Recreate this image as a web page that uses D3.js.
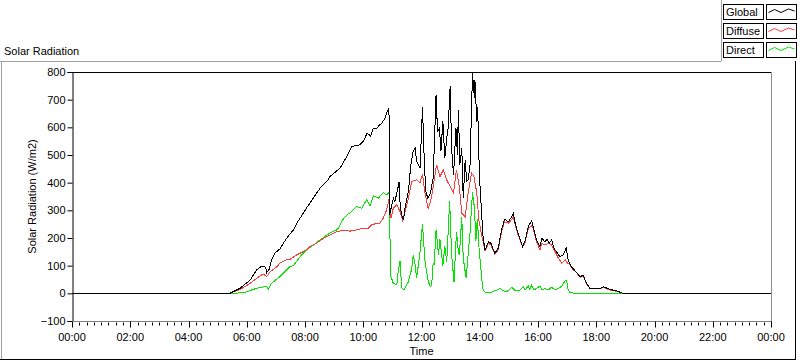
<!DOCTYPE html>
<html><head><meta charset="utf-8">
<script src="https://cdn.jsdelivr.net/npm/d3@7"></script>
<style>
body{margin:0;background:#fff;}
svg{display:block;}
text{font-family:"Liberation Sans",Arial,sans-serif;font-size:11px;fill:#000;}
</style>
</head><body>
<svg id="c" width="800" height="361"></svg>
<script>
const seriesNames = ["Global", "Diffuse", "Direct"];
const seriesColors = ["#000000", "#ff3c3c", "#00e400"];
const yTicks = [-100, 0, 100, 200, 300, 400, 500, 600, 700, 800];
const xTickLabels = ["00:00","02:00","04:00","06:00","08:00","10:00","12:00","14:00","16:00","18:00","20:00","22:00","00:00"];
const chartTitle = "Solar Radiation";
const yTitle = "Solar Radiation (W/m2)";
const xTitle = "Time";

const globalData = [
["00:00",0],["05:25",0],["05:46",18],["06:07",48],["06:20",84],["06:31",99],["06:39",94],["06:41",75],["06:46",87],
["06:51",120],["06:58",145],["07:08",160],["07:22",199],["07:36",229],["07:43",253],["08:03",308],["08:24",362],
["08:31",380],["08:48",410],["08:51",422],["09:12",452],["09:26",494],["09:36",531],["09:53",537],["10:00",549],
["10:08",579],["10:15",569],["10:21",597],["10:28",597],["10:34",609],["10:38",615],["10:45",633],["10:49",657],
["10:53",670],["10:54",283],["10:59",320],["11:02",344],["11:05",332],["11:10",368],["11:14",404],["11:16",320],
["11:19",283],["11:23",265],["11:26",308],["11:33",368],["11:38",465],["11:43",515],["11:47",525],["11:50",477],
["11:57",452],["12:02",672],["12:06",465],["12:09",368],["12:13",344],["12:18",360],["12:24",416],["12:26",513],
["12:30",718],["12:33",585],["12:37",597],["12:40",513],["12:44",621],["12:48",489],["12:52",561],["12:55",600],
["12:59",748],["13:02",525],["13:06",428],["13:11",597],["13:14",501],["13:16",664],["13:19",465],["13:23",525],
["13:26",344],["13:30",483],["13:33",404],["13:36",410],["13:40",465],["13:45",796],["13:49",706],["13:50",772],
["13:54",621],["13:56",675],["13:57",561],["14:00",404],["14:04",283],["14:07",199],["14:11",157],["14:18",187],
["14:23",181],["14:31",145],["14:38",163],["14:45",229],["14:51",268],["14:59",259],["15:06",277],["15:09",290],
["15:13",253],["15:19",217],["15:28",169],["15:33",187],["15:40",241],["15:47",263],["15:50",241],["15:57",193],
["16:04",169],["16:08",199],["16:14",187],["16:19",195],["16:23",181],["16:28",193],["16:33",163],["16:40",145],
["16:45",133],["16:52",139],["16:58",163],["17:02",121],["17:09",96],["17:18",78],["17:27",60],["17:33",66],
["17:40",36],["17:47",18],["17:57",18],["18:08",18],["18:15",24],["18:28",14],["18:42",9],["18:52",2],["18:56",0],
["24:00",0]
];

const diffuseData = [
["00:00",0],["05:25",0],["05:46",14],["06:07",36],["06:20",54],["06:34",70],["06:41",60],["06:48",78],["07:02",96],
["07:08",109],["07:22",121],["07:29",123],["07:43",139],["07:50",145],["08:03",157],["08:10",169],["08:24",181],
["08:31",190],["08:38",199],["08:51",211],["09:05",223],["09:19",227],["09:33",225],["09:46",229],["10:00",235],
["10:10",235],["10:17",247],["10:24",251],["10:34",254],["10:41",271],["10:48",300],["10:53",340],["10:57",271],
["11:02",308],["11:09",320],["11:16",295],["11:21",265],["11:26",295],["11:33",344],["11:40",404],["11:50",410],
["11:57",400],["12:02",431],["12:07",365],["12:14",305],["12:21",350],["12:28",430],["12:31",465],["12:38",422],
["12:45",446],["12:52",410],["12:59",386],["13:06",362],["13:12",446],["13:18",386],["13:23",290],["13:30",277],
["13:36",362],["13:43",434],["13:48",422],["13:54",362],["13:58",265],["14:04",210],["14:11",153],["14:18",181],
["14:23",175],["14:31",142],["14:38",157],["14:45",223],["14:51",259],["14:59",253],["15:06",268],["15:09",277],
["15:13",247],["15:19",211],["15:28",169],["15:33",181],["15:40",235],["15:47",244],["15:50",235],["15:57",187],
["16:04",157],["16:08",181],["16:14",175],["16:21",181],["16:28",175],["16:35",151],["16:42",127],["16:49",109],
["16:56",121],["17:00",111],["17:06",102],["17:13",84],["17:18",78],["17:27",58],["17:33",64],["17:40",34],
["17:47",18],["17:57",17],["18:08",17],["18:15",22],["18:28",12],["18:42",7],["18:56",0],["24:00",0]
];

const directData = [
["00:00",0],["05:25",0],["05:53",2],["06:20",18],["06:41",26],["06:44",14],["06:51",36],["07:08",60],["07:29",96],
["07:36",100],["07:50",133],["08:03",157],["08:10",165],["08:31",193],["08:51",218],["09:05",229],["09:09",235],
["09:16",262],["09:26",283],["09:36",295],["09:46",314],["09:57",308],["10:07",338],["10:14",316],["10:21",352],
["10:31",344],["10:41",364],["10:48",356],["10:54",366],["10:56",66],["11:02",36],["11:09",30],["11:12",78],
["11:16",118],["11:19",20],["11:24",12],["11:33",42],["11:40",90],["11:43",139],["11:47",102],["11:50",54],
["11:57",151],["12:02",250],["12:07",118],["12:14",42],["12:18",24],["12:21",30],["12:24",110],["12:26",102],
["12:30",230],["12:35",140],["12:38",196],["12:44",100],["12:48",172],["12:52",115],["12:58",332],["13:02",140],
["13:07",42],["13:12",223],["13:16",151],["13:18",140],["13:23",274],["13:26",127],["13:32",54],["13:36",140],
["13:40",220],["13:45",365],["13:49",310],["13:52",190],["13:55",270],["13:59",150],["14:02",96],["14:06",20],
["14:09",6],["14:18",2],["14:21",2],["14:35",12],["14:42",18],["14:48",9],["14:56",6],["15:06",22],["15:13",9],
["15:23",12],["15:30",24],["15:33",12],["15:40",26],["15:43",14],["15:47",30],["15:52",12],["15:57",18],
["16:04",26],["16:08",12],["16:14",18],["16:21",12],["16:28",22],["16:35",12],["16:42",18],["16:49",26],
["16:56",46],["16:59",48],["17:02",12],["17:06",2],["17:20",0],["24:00",0]
];

const toMin = s => { const p = s.split(":"); return (+p[0]) * 60 + (+p[1]); };

const svg = d3.select("#c");
const L = 72, R = 771, T = 72, B = 321;
const x = d3.scaleLinear().domain([0, 1440]).range([L, R]);
const y = d3.scaleLinear().domain([-100, 800]).range([B, T]);

// outer panel frame
svg.append("line").attr("x1",0).attr("x2",721).attr("y1",61.5).attr("y2",61.5).attr("stroke","#a0a0a0");
svg.append("line").attr("x1",1.5).attr("x2",1.5).attr("y1",61).attr("y2",360).attr("stroke","#a0a0a0");
svg.append("line").attr("x1",0).attr("x2",796).attr("y1",359.5).attr("y2",359.5).attr("stroke","#000");
svg.append("line").attr("x1",795.5).attr("x2",795.5).attr("y1",61).attr("y2",360).attr("stroke","#000");

svg.append("text").attr("x",4).attr("y",55).text(chartTitle);

// plot area
svg.append("rect").attr("x",L).attr("y",T).attr("width",R-L).attr("height",B-T).attr("fill","#fff");

svg.append("clipPath").attr("id","pc").append("rect")
  .attr("x",L).attr("y",T).attr("width",R-L).attr("height",B-T);

const line = d3.line().x(d => x(toMin(d[0]))).y(d => y(d[1]));
const g = svg.append("g").attr("clip-path","url(#pc)");
[[directData,2],[diffuseData,1],[globalData,0]].forEach(([data,i]) => {
  g.append("path").attr("d", line(data)).attr("fill","none")
   .attr("stroke", seriesColors[i]).attr("stroke-width",1)
   .attr("shape-rendering","crispEdges");
});

// plot borders
svg.append("line").attr("x1",L).attr("x2",R).attr("y1",T+0.5).attr("y2",T+0.5).attr("stroke","#000").attr("shape-rendering","crispEdges");
svg.append("line").attr("x1",R+0.5).attr("x2",R+0.5).attr("y1",T).attr("y2",B).attr("stroke","#909090").attr("shape-rendering","crispEdges");

// y axis
const yAxis = d3.axisLeft(y).tickValues(yTicks).tickSize(5).tickPadding(2).tickFormat(d3.format("d"));
const ya = svg.append("g").attr("transform",`translate(${L+0.5},0)`).call(yAxis);
ya.select(".domain").attr("stroke","#000");
ya.selectAll("text").style("font-family",'"Liberation Sans",Arial,sans-serif').style("font-size","11px");

// x axis
const majorTicks = d3.range(0, 1441, 120);
const minorTicks = d3.range(0, 1441, 15).filter(m => m % 120 !== 0);
const xa = svg.append("g").attr("transform",`translate(0,${B+0.5})`);
xa.append("line").attr("x1",L).attr("x2",R+1).attr("y1",0).attr("y2",0).attr("stroke","#808080");
xa.selectAll(".mn").data(minorTicks).enter().append("line")
  .attr("x1",d=>Math.round(x(d))+0.5).attr("x2",d=>Math.round(x(d))+0.5).attr("y1",1).attr("y2",4).attr("stroke","#000");
xa.selectAll(".mj").data(majorTicks).enter().append("line")
  .attr("x1",d=>Math.round(x(d))+0.5).attr("x2",d=>Math.round(x(d))+0.5).attr("y1",0).attr("y2",6).attr("stroke","#000");
xa.selectAll(".lb").data(majorTicks).enter().append("text")
  .attr("x",d=>x(d)).attr("y",19).attr("text-anchor","middle").text((d,i)=>xTickLabels[i]);

svg.append("text").attr("x",(L+R)/2).attr("y",355).attr("text-anchor","middle").text(xTitle);
svg.append("text").attr("transform",`translate(36,${(T+B)/2}) rotate(-90)`).attr("text-anchor","middle").text(yTitle);

// legend
svg.append("rect").attr("x",721).attr("y",0).attr("width",79).attr("height",61).attr("fill","#fff");
svg.append("line").attr("x1",721.5).attr("x2",721.5).attr("y1",0).attr("y2",61).attr("stroke","#a0a0a0");
const samplePts = [[2,8.5],[8,5.5],[14.5,8.5],[22,5],[28,7]];
seriesNames.forEach((n,i) => {
  const yy = 4 + i*19;
  svg.append("rect").attr("x",723.5).attr("y",yy+0.5).attr("width",40).attr("height",15)
    .attr("fill","#fff").attr("stroke","#000");
  svg.append("text").attr("x",726).attr("y",yy+12).text(n);
  svg.append("rect").attr("x",766.5).attr("y",yy+0.5).attr("width",30).attr("height",15)
    .attr("fill","#fff").attr("stroke","#000");
  svg.append("polyline").attr("points", samplePts.map(p => [766.5+p[0], yy+p[1]].join(",")).join(" "))
    .attr("fill","none").attr("stroke",seriesColors[i]);
});
</script>
</body></html>
